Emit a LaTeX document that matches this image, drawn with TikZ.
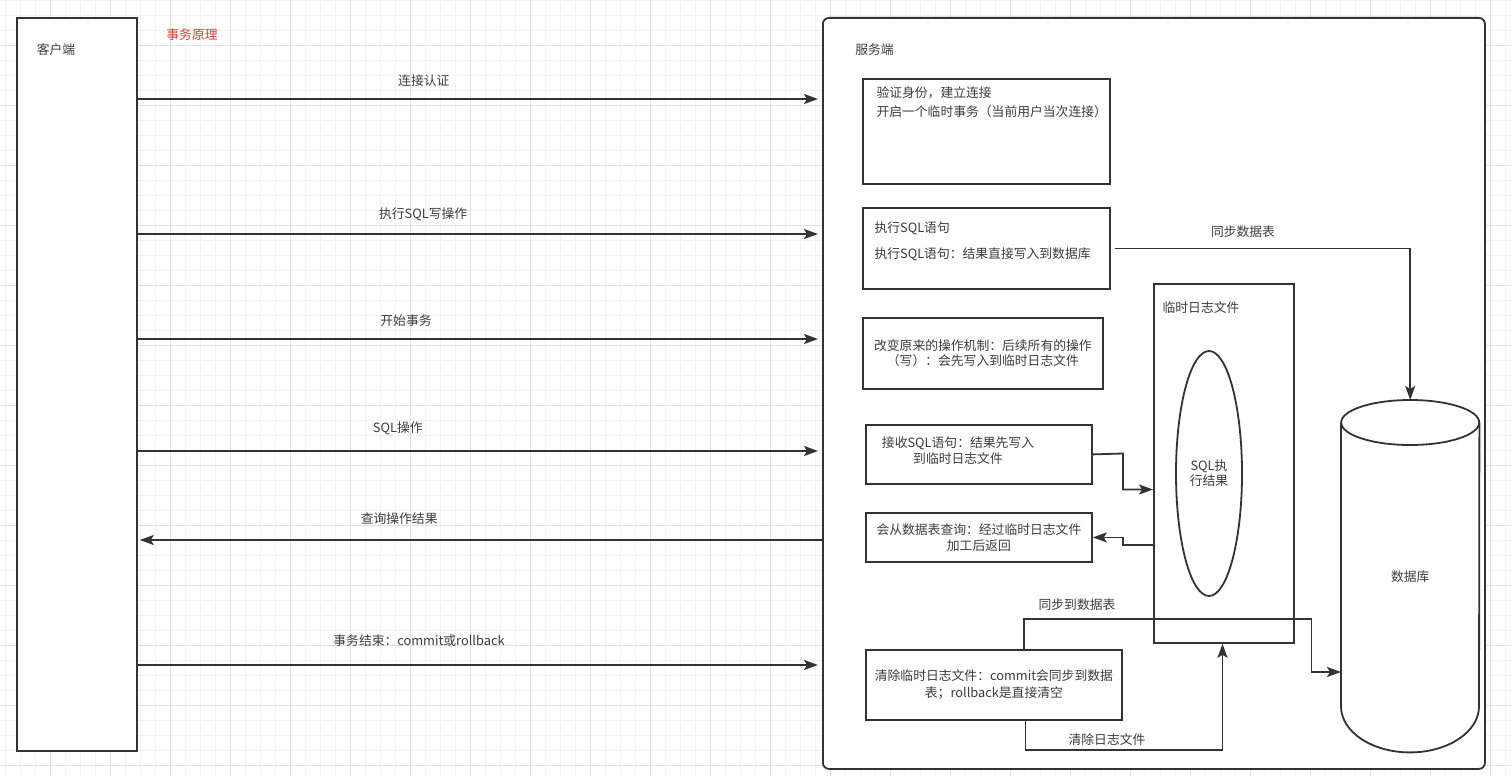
\documentclass[tikz,border=0pt]{standalone}
\usepackage{fontspec}
\setmainfont{Noto Sans CJK SC}
\usepackage{xcolor}
\usepackage{tikz}
\usetikzlibrary{shapes.geometric, arrows.meta, calc}
\definecolor{inkGray}{HTML}{333333}
\definecolor{textGray}{HTML}{3C3C3C}
\definecolor{gridMinor}{HTML}{F2F2F2}
\definecolor{gridMajor}{HTML}{E2E2E2}
\definecolor{titleRed}{HTML}{E53935}
\tikzstyle{arrow} = [line width=1.8pt, draw=inkGray, -{Stealth[length=14pt, width=10pt, inset=3pt]}]
\tikzstyle{box} = [draw=inkGray, line width=1.8pt, rectangle, fill=white, inner sep=2pt, anchor=north west]

\begin{document}
\begin{tikzpicture}[x=1pt, y=-1pt, every node/.style={font=\fontsize{12.8}{16}\selectfont, text=textGray}, align=center]
\useasboundingbox (0,0) rectangle (1512,776);
% Background grid
\foreach \gx in {5,20,...,1505} \draw[gridMinor, line width=0.8pt] (\gx,0) -- (\gx,776);
\foreach \gy in {0,15,...,775} \draw[gridMinor, line width=0.8pt] (0,\gy) -- (1512,\gy);
\foreach \gx in {50,110,...,1490} \draw[gridMajor, line width=0.8pt] (\gx,0) -- (\gx,776);
\foreach \gy in {45,105,...,765} \draw[gridMajor, line width=0.8pt] (0,\gy) -- (1512,\gy);

% Client and server frames
\node (client) [box, minimum width=120pt, minimum height=733pt] at (16,17) {};
\node (clientLabel) at (56,50) {客户端};
\node (title) [text=titleRed] at (192,35) {事务原理};
\node (server) [box, rounded corners=6pt, minimum width=662pt, minimum height=751pt] at (822,17) {};
\node (serverLabel) at (874.5,50) {服务端};

% Server steps
\node (auth) [box, minimum width=247pt, minimum height=105pt] at (862,78) {};
\node (authText) [anchor=west, align=left, font=\fontsize{12.8}{19}\selectfont] at (873,102.5) {验证身份，建立连接\\开启一个临时事务（当前用户当次连接）};
\node (exec) [box, minimum width=247pt, minimum height=81pt] at (862,207) {};
\node (execText) [anchor=west, align=left, font=\fontsize{12.8}{26}\selectfont] at (871,241) {执行SQL语句\\执行SQL语句：结果直接写入到数据库};
\node (begin) [box, minimum width=240pt, minimum height=71pt, font=\fontsize{12.8}{15}\selectfont] at (862,317) {改变原来的操作机制：后续所有的操作\\（写）：会先写入到临时日志文件};
\node (recv) [box, minimum width=226pt, minimum height=59pt] at (865,424) {};
\node (recvText) at (958,451) {接收SQL语句：结果先写入\\到临时日志文件};
\node (query) [box, minimum width=226pt, minimum height=49pt] at (865,512) {会从数据表查询：经过临时日志文件\\加工后返回};
\node (clear) [box, minimum width=256pt, minimum height=70pt, font=\fontsize{12.8}{17}\selectfont] at (865,649) {清除临时日志文件：commit会同步到数据\\表；rollback是直接清空};

% Temporary log file
\node (tempLog) [box, minimum width=140pt, minimum height=359pt] at (1153,283) {};
\node (tempLabel) at (1201,308) {临时日志文件};
\node (result) [ellipse, draw=inkGray, line width=1.8pt, minimum width=66pt, minimum height=245pt, inner sep=0pt, font=\fontsize{12.8}{15}\selectfont] at (1209,473.5) {SQL执\\行结果};

% Database
\node (db) [minimum width=138pt, minimum height=352pt, inner sep=0pt, anchor=north west] at (1341,400) {数据库};
\draw[draw=inkGray, line width=1.8pt] ($(db.north west)+(0,22.5)$) -- ($(db.south west)+(0,-46)$) arc[start angle=180, end angle=360, x radius=69pt, y radius=46pt] -- ($(db.north east)+(0,22.5)$);
\draw[draw=inkGray, line width=1.8pt] ($(db.north)+(0,22.5)$) ellipse [x radius=69pt, y radius=22.5pt];

% Client <-> server messages
\draw[arrow, shorten >=4pt] (client.east |- 0,99) -- node[pos=0.418, yshift=18pt] (authLabel) {连接认证} (server.west |- 0,99);
\draw[arrow, shorten >=4pt] (client.east |- 0,234) -- node[pos=0.417, yshift=20pt] (execLabel) {执行SQL写操作} (server.west |- 0,234);
\draw[arrow, shorten >=4pt] (client.east |- 0,339) -- node[pos=0.392, yshift=18pt] (beginLabel) {开始事务} (server.west |- 0,339);
\draw[arrow, shorten >=4pt] (client.east |- 0,451) -- node[pos=0.38, yshift=23pt] (sqlLabel) {SQL操作} (server.west |- 0,451);
\draw[arrow, shorten >=2pt] (server.west |- 0,540) -- node[pos=0.618, yshift=21pt] (queryLabel) {查询操作结果} (client.east |- 0,540);
\draw[arrow, shorten >=4pt] (client.east |- 0,665) -- node[pos=0.411, yshift=24pt] (endLabel) {事务结束：commit或rollback} (server.west |- 0,665);

% Inner connectors
\draw[arrow] ($(exec.east)+(4,0)$) -| (db.north);
\node (syncLabel) at (1243,232) {同步数据表};
\draw[arrow] (recv.east) -- (1123,453.5) |- (tempLog.west |- 0,489.5);
\draw[arrow] (tempLog.west |- 0,545) -- (1123,545) |- (query.east);
\draw[arrow] (clear.north -| 1024,0) -- (1024,619) -| (1311.5,672) -- (db.west |- 0,672);
\node (syncLogLabel) at (1077,605) {同步到数据表};
\draw[arrow] (clear.south -| 1025.5,0) -- (1025.5,750) -| (tempLog.south -| 1222.5,0);
\node (clearLabel) at (1107,740) {清除日志文件};
\end{tikzpicture}
\end{document}
